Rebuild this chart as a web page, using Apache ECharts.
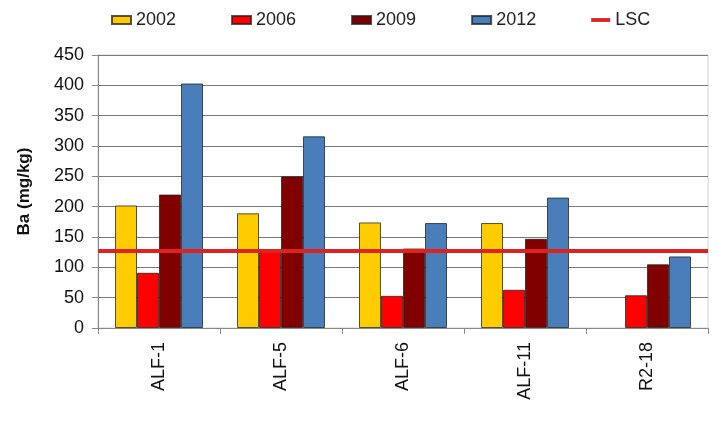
<!DOCTYPE html>
<html>
<head>
<meta charset="utf-8">
<script src="https://cdn.jsdelivr.net/npm/echarts@6/dist/echarts.min.js"></script>
<style>html,body{margin:0;padding:0;background:#fff}#c{width:717px;height:442px}</style>
</head>
<body>
<div id="c"></div>
<script>
var categories = ['ALF-1', 'ALF-5', 'ALF-6', 'ALF-11', 'R2-18'];
var v2002 = [202, 189, 174, 173, null];
var v2006 = [91, 128, 53, 63, 54];
var v2009 = [220, 250, 131, 147, 105];
var v2012 = [403, 316, 173, 215, 118];
var lscValue = 127;
var yTicks = [0, 50, 100, 150, 200, 250, 300, 350, 400, 450];

var font = 'Liberation Sans, Arial, sans-serif';
var border = { borderColor: 'rgba(30,30,30,0.75)', borderWidth: 1 };
function barSeries(name, data, color) {
  return {
    name: name, type: 'bar', data: data, barWidth: 22, barGap: '0%',
    itemStyle: Object.assign({ color: color }, border)
  };
}
var chart = echarts.init(document.getElementById('c'));
chart.setOption({
  animation: false,
  backgroundColor: '#fff',
  textStyle: { fontFamily: font },
  legend: {
    left: 106, top: 6, itemWidth: 19, itemHeight: 8, itemGap: 55,
    icon: 'rect',
    textStyle: { fontSize: 18, color: '#222', fontFamily: font },
    data: [
      { name: '2002' }, { name: '2006' }, { name: '2009' }, { name: '2012' },
      { name: 'LSC', icon: 'path://M0,0 L20,0 L20,4 L0,4 Z',
        itemStyle: { color: '#DD2222', borderWidth: 0 } }
    ]
  },
  grid: { left: 98, right: 9, top: 55, bottom: 114, containLabel: false,
          show: true, borderColor: '#d0d0d0', borderWidth: 1 },
  xAxis: {
    type: 'category', data: categories,
    axisLine: { lineStyle: { color: '#888', width: 1 } },
    axisTick: { show: true, length: 6, alignWithLabel: false, lineStyle: { color: '#888' } },
    axisLabel: { rotate: 90, fontSize: 18, color: '#111', margin: 14, fontFamily: font }
  },
  yAxis: {
    type: 'value', min: yTicks[0], max: yTicks[yTicks.length - 1], interval: 50,
    name: 'Ba (mg/kg)', nameLocation: 'middle', nameGap: 65, nameRotate: 90,
    nameMoveOverlap: false,
    nameTextStyle: { fontSize: 17, fontWeight: 'bold', color: '#111', fontFamily: font },
    axisLine: { show: true, lineStyle: { color: '#888' } },
    axisTick: { show: true, length: 6, lineStyle: { color: '#888' } },
    axisLabel: { fontSize: 18, color: '#111', margin: 14, fontFamily: font },
    splitLine: { lineStyle: { color: '#7a7a7a', width: 1 } }
  },
  series: [
    barSeries('2002', v2002, '#FFCC00'),
    barSeries('2006', v2006, '#FF0000'),
    barSeries('2009', v2009, '#800000'),
    barSeries('2012', v2012, '#4A7EBB'),
    {
      name: 'LSC', type: 'line', data: [], symbol: 'none',
      lineStyle: { color: '#DD2222', width: 4 },
      itemStyle: { color: '#DD2222' },
      markLine: {
        silent: true, symbol: ['none', 'none'], label: { show: false },
        lineStyle: { color: '#DD2222', width: 4, type: 'solid' },
        data: [{ yAxis: lscValue }]
      }
    }
  ]
});
</script>
</body>
</html>
